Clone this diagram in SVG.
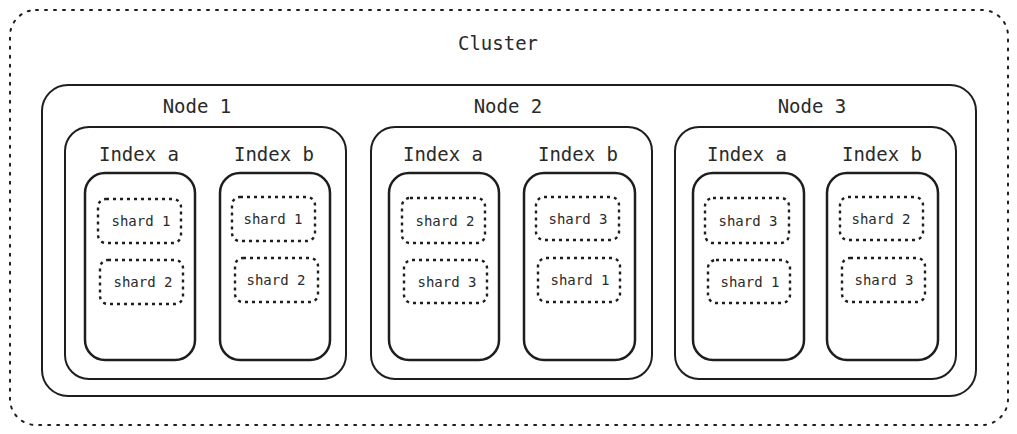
<svg xmlns="http://www.w3.org/2000/svg" width="1017" height="434" viewBox="0 0 1017 434">
<style>
.solid{fill:none;stroke:#1e1e1e;stroke-width:2}
.idx{fill:none;stroke:#1e1e1e;stroke-width:2.5}
.dot{fill:none;stroke:#1e1e1e;stroke-width:2;stroke-dasharray:2 7;stroke-linecap:round}
.sh{fill:none;stroke:#1e1e1e;stroke-width:2.4;stroke-dasharray:3 4}
.lbl{font-family:"DejaVu Sans Mono","Liberation Mono",monospace;font-size:19px;fill:#2a2a2a;text-anchor:middle}
.st{font-family:"DejaVu Sans Mono","Liberation Mono",monospace;font-size:14px;fill:#2a2a2a;text-anchor:middle}
</style>
<rect width="1017" height="434" fill="#ffffff"/>
<g id="cluster">
<rect class="dot" x="10" y="10" width="998" height="415" rx="26"/>
<text class="lbl" x="498" y="50">Cluster</text>
</g>
<g id="nodes-frame">
<rect class="solid" x="42" y="85" width="934" height="311" rx="26"/>
</g>
<g id="node1">
<rect class="solid" x="65" y="127" width="281" height="252" rx="24"/>
<text class="lbl" x="197" y="113">Node 1</text>
<g id="n1-index-a">
<rect class="idx" x="85" y="173" width="110" height="187" rx="20"/>
<text class="lbl" x="139" y="161">Index a</text>
<g id="n1a-s1"><rect class="sh" x="98" y="199" width="83" height="44" rx="8"/><text class="st" x="141" y="226">shard 1</text></g>
<g id="n1a-s2"><rect class="sh" x="100" y="260" width="83" height="44" rx="8"/><text class="st" x="143" y="287">shard 2</text></g>
</g>
<g id="n1-index-b">
<rect class="idx" x="220" y="173" width="110" height="187" rx="20"/>
<text class="lbl" x="274" y="161">Index b</text>
<g id="n1b-s1"><rect class="sh" x="232" y="197" width="83" height="44" rx="8"/><text class="st" x="273" y="224">shard 1</text></g>
<g id="n1b-s2"><rect class="sh" x="235" y="258" width="83" height="44" rx="8"/><text class="st" x="276" y="285">shard 2</text></g>
</g>
</g>
<g id="node2">
<rect class="solid" x="371" y="127" width="281" height="252" rx="24"/>
<text class="lbl" x="508" y="113">Node 2</text>
<g id="n2-index-a">
<rect class="idx" x="389" y="173" width="110" height="187" rx="20"/>
<text class="lbl" x="443" y="161">Index a</text>
<g id="n2a-s2"><rect class="sh" x="402" y="198" width="83" height="45" rx="8"/><text class="st" x="445" y="226">shard 2</text></g>
<g id="n2a-s3"><rect class="sh" x="404" y="260" width="83" height="43" rx="8"/><text class="st" x="447" y="287">shard 3</text></g>
</g>
<g id="n2-index-b">
<rect class="idx" x="524" y="173" width="111" height="187" rx="20"/>
<text class="lbl" x="578" y="161">Index b</text>
<g id="n2b-s3"><rect class="sh" x="536" y="197" width="83" height="43" rx="8"/><text class="st" x="578" y="224">shard 3</text></g>
<g id="n2b-s1"><rect class="sh" x="538" y="258" width="82" height="44" rx="8"/><text class="st" x="580" y="285">shard 1</text></g>
</g>
</g>
<g id="node3">
<rect class="solid" x="675" y="127" width="281" height="252" rx="24"/>
<text class="lbl" x="812" y="113">Node 3</text>
<g id="n3-index-a">
<rect class="idx" x="693" y="173" width="111" height="187" rx="20"/>
<text class="lbl" x="747" y="161">Index a</text>
<g id="n3a-s3"><rect class="sh" x="705" y="198" width="84" height="45" rx="8"/><text class="st" x="748" y="226">shard 3</text></g>
<g id="n3a-s1"><rect class="sh" x="708" y="260" width="82" height="43" rx="8"/><text class="st" x="750" y="287">shard 1</text></g>
</g>
<g id="n3-index-b">
<rect class="idx" x="827" y="173" width="111" height="187" rx="20"/>
<text class="lbl" x="882" y="161">Index b</text>
<g id="n3b-s2"><rect class="sh" x="840" y="197" width="83" height="43" rx="8"/><text class="st" x="881" y="224">shard 2</text></g>
<g id="n3b-s3"><rect class="sh" x="842" y="258" width="83" height="44" rx="8"/><text class="st" x="884" y="285">shard 3</text></g>
</g>
</g>
<g id="connectors"></g>
</svg>
